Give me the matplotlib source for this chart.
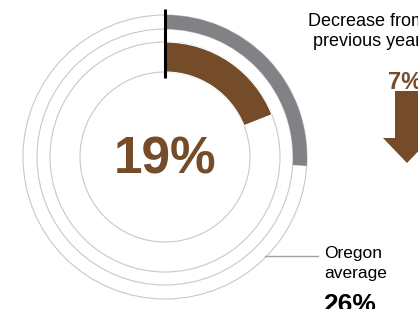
import matplotlib
matplotlib.use('Agg')
import matplotlib.pyplot as plt
from matplotlib.patches import Wedge, Circle, FancyArrow

# data
county_pct = 19
oregon_pct = 26
change_pct = 7
change_lines = ['Decrease from', 'previous year']
avg_lines = ['Oregon', 'average']

brown = '#754c29'
grey = '#808285'
light = '#c8c8c8'

plt.rcParams['font.family'] = ['Liberation Sans', 'DejaVu Sans']

fig = plt.figure(figsize=(4.18, 3.09), dpi=100)
ax = fig.add_axes([0, 0, 1, 1])
ax.set_xlim(0, 418)
ax.set_ylim(309, 0)
ax.set_aspect('equal')
ax.axis('off')

cx, cy = 165, 157

# thin guide circles
for r in [142, 128, 115, 85]:
    ax.add_patch(Circle((cx, cy), r, fill=False, ec=light, lw=0.8))

# state average ring (grey) and county ring (brown), clockwise from top
ax.add_patch(Wedge((cx, cy), 142, -90, -90 + 360 * oregon_pct / 100, width=14,
                   fc=grey, ec='none'))
ax.add_patch(Wedge((cx, cy), 115, -90, -90 + 360 * county_pct / 100, width=30,
                   fc=brown, ec='white', lw=0.8))

# start marker
ax.plot([cx - 0.5, cx - 0.5], [9, 78], color='black', lw=2.2, solid_capstyle='butt')

ax.text(cx, cy + 3, f'{county_pct}%', color=brown, fontsize=37, fontweight='bold',
        ha='center', va='center')

# change from previous year
for i, line in enumerate(change_lines):
    ax.text(367, 26 + 19.5 * i, line, fontsize=13, ha='center', va='baseline')
ax.text(405, 89, f'{change_pct}%', color=brown, fontsize=17, fontweight='bold',
        ha='center', va='baseline')
ax.add_patch(FancyArrow(407, 91, 0, 72, width=24, head_width=48, head_length=25,
                        length_includes_head=True, fc=brown, ec='none'))

# Oregon average label
ax.plot([265, 318], [256, 256], color='#a0a0a0', lw=1)
for i, line in enumerate(avg_lines):
    ax.text(324, 258 + 20 * i, line, fontsize=12.5, ha='left', va='baseline')
ax.text(323, 312, f'{oregon_pct}%', fontsize=19, fontweight='bold',
        ha='left', va='baseline')

fig.savefig('out.png', dpi=100)
